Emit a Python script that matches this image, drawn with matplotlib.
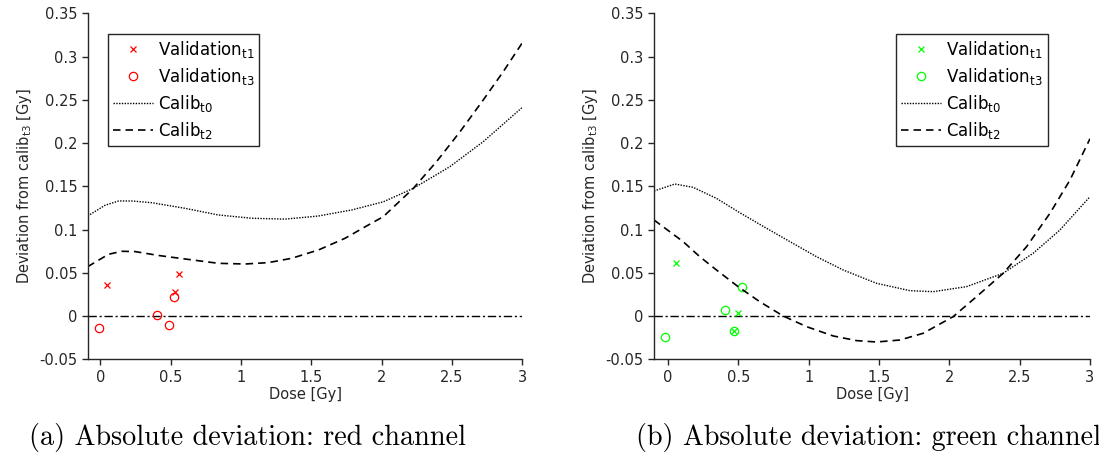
import numpy as np
import matplotlib
matplotlib.use("Agg")
import matplotlib.pyplot as plt

plt.rcParams['font.family'] = ['DejaVu Sans']
plt.rcParams['axes.unicode_minus'] = False

# --- red channel (a) ---
red_t0_x = [-0.09, 0.033, 0.13, 0.223, 0.365, 0.602, 0.839, 1.076, 1.313, 1.55, 1.787, 2.011,
            2.225, 2.485, 2.722, 3.0]
red_t0_y = [0.1156, 0.128, 0.133, 0.133, 0.131, 0.1245, 0.1168, 0.113, 0.112, 0.1156, 0.1226, 0.132,
            0.1476, 0.1727, 0.2016, 0.2413]
red_t2_x = [-0.09, 0.057, 0.152, 0.246, 0.412, 0.602, 0.839, 1.028, 1.194, 1.36, 1.55, 1.739,
            1.905, 2.011, 2.225, 2.39, 2.557, 2.722, 2.864, 3.0]
red_t2_y = [0.057, 0.0713, 0.0748, 0.0745, 0.070, 0.0659, 0.0609, 0.0601, 0.0617, 0.0667, 0.0763, 0.0898,
            0.1052, 0.1148, 0.1476, 0.1785, 0.2131, 0.2498, 0.2825, 0.316]
red_val_t1_x = [0.045, 0.557, 0.533]
red_val_t1_y = [0.036, 0.048, 0.028]
red_val_t3_x = [-0.007, 0.403, 0.486, 0.521]
red_val_t3_y = [-0.0135, 0.0015, -0.0104, 0.0216]

# --- green channel (b) ---
green_t0_x = [-0.1, 0.048, 0.178, 0.344, 0.498, 0.7, 0.866, 1.055, 1.245, 1.482, 1.719, 1.885,
              2.122, 2.383, 2.596, 2.786, 3.0]
green_t0_y = [0.1445, 0.1526, 0.1488, 0.136, 0.1206, 0.1014, 0.086, 0.0686, 0.0532, 0.0378, 0.0293, 0.0281,
              0.0339, 0.0494, 0.0725, 0.0994, 0.138]
green_t2_x = [-0.1, 0.107, 0.225, 0.344, 0.498, 0.652, 0.818, 0.984, 1.174, 1.34, 1.482, 1.648,
              1.814, 2.027, 2.193, 2.383, 2.549, 2.715, 2.857, 3.0]
green_t2_y = [0.111, 0.086, 0.0686, 0.0532, 0.0339, 0.0165, 0.0, -0.0123, -0.0231, -0.0285, -0.0301, -0.0278,
              -0.02, -0.0008, 0.0223, 0.0494, 0.0801, 0.1187, 0.157, 0.205]
green_val_t1_x = [0.059, 0.498, 0.469]
green_val_t1_y = [0.061, 0.003, -0.017]
green_val_t3_x = [-0.024, 0.403, 0.469, 0.526]
green_val_t3_y = [-0.024, 0.0066, -0.0173, 0.034]

yticks = [-0.05, 0, 0.05, 0.1, 0.15, 0.2, 0.25, 0.3, 0.35]
ytick_labels = ['-0.05', '0', '0.05', '0.1', '0.15', '0.2', '0.25', '0.3', '0.35']
xticks = [0, 0.5, 1, 1.5, 2, 2.5, 3]
xtick_labels = ['0', '0.5', '1', '1.5', '2', '2.5', '3']

fig = plt.figure(figsize=(10.99, 4.61), dpi=100)
ax1 = fig.add_axes([0.0798, 0.2208, 0.3955, 0.7503])
ax2 = fig.add_axes([0.5951, 0.2208, 0.3967, 0.7503])

def draw_panel(ax, col, t0x, t0y, t2x, t2y, v1x, v1y, v3x, v3y, xmin):
    ax.plot([xmin, 3], [0, 0], color='k', lw=1.0, linestyle='-.', dashes=(6, 2, 1.5, 2))
    ax.plot(v1x, v1y, linestyle='none', marker='x', color=col, ms=4, mew=0.9,
            label=r'Validation$_{\mathregular{t1}}$')
    ax.plot(v3x, v3y, linestyle='none', marker='o', mfc='none', mec=col, ms=6, mew=0.9,
            label=r'Validation$_{\mathregular{t3}}$')
    ax.plot(t0x, t0y, color='k', lw=1.0, linestyle=(0, (1, 1)),
            label=r'Calib$_{\mathregular{t0}}$')
    ax.plot(t2x, t2y, color='k', lw=1.2, linestyle=(0, (4.5, 3)),
            label=r'Calib$_{\mathregular{t2}}$')
    ax.set_xlim(xmin, 3)
    ax.set_ylim(-0.05, 0.35)
    ax.set_yticks(yticks)
    ax.set_yticklabels(ytick_labels)
    ax.set_xticks(xticks)
    ax.set_xticklabels(xtick_labels)
    for s in ['top', 'right']:
        ax.spines[s].set_visible(False)
    for s in ['left', 'bottom']:
        ax.spines[s].set_color('#262626')
        ax.spines[s].set_linewidth(1.0)
    ax.tick_params(direction='out', length=4, width=1.0, colors='#262626',
                   labelsize=10.5, labelcolor='#262626')
    ax.set_xlabel('Dose [Gy]', fontsize=10.5, color='#262626', labelpad=2)
    ax.set_ylabel(r'Deviation from calib$_{\mathregular{t3}}$ [Gy]', fontsize=10.5,
                  color='#262626', labelpad=4)
    leg = ax.legend(loc='upper left', fontsize=12, frameon=True, fancybox=False,
                    edgecolor='#262626', framealpha=1, handlelength=2.4,
                    handletextpad=0.3, labelspacing=0.35, borderpad=0.3,
                    borderaxespad=0.0)
    leg.get_frame().set_linewidth(1.0)
    return leg

leg1 = draw_panel(ax1, '#ff0000', red_t0_x, red_t0_y, red_t2_x, red_t2_y,
                  red_val_t1_x, red_val_t1_y, red_val_t3_x, red_val_t3_y, -0.09)
leg1.set_bbox_to_anchor((0.046, 0.94), transform=ax1.transAxes)
leg2 = draw_panel(ax2, '#00ff00', green_t0_x, green_t0_y, green_t2_x, green_t2_y,
                  green_val_t1_x, green_val_t1_y, green_val_t3_x, green_val_t3_y, -0.1)
leg2.set_bbox_to_anchor((0.555, 0.94), transform=ax2.transAxes)

fig.text(0.225, 0.052, '(a) Absolute deviation: red channel', family='cmr10',
         fontsize=20.3, ha='center', va='center')
fig.text(0.79, 0.052, '(b) Absolute deviation: green channel', family='cmr10',
         fontsize=20.3, ha='center', va='center')

fig.savefig('out.png', dpi=100)
